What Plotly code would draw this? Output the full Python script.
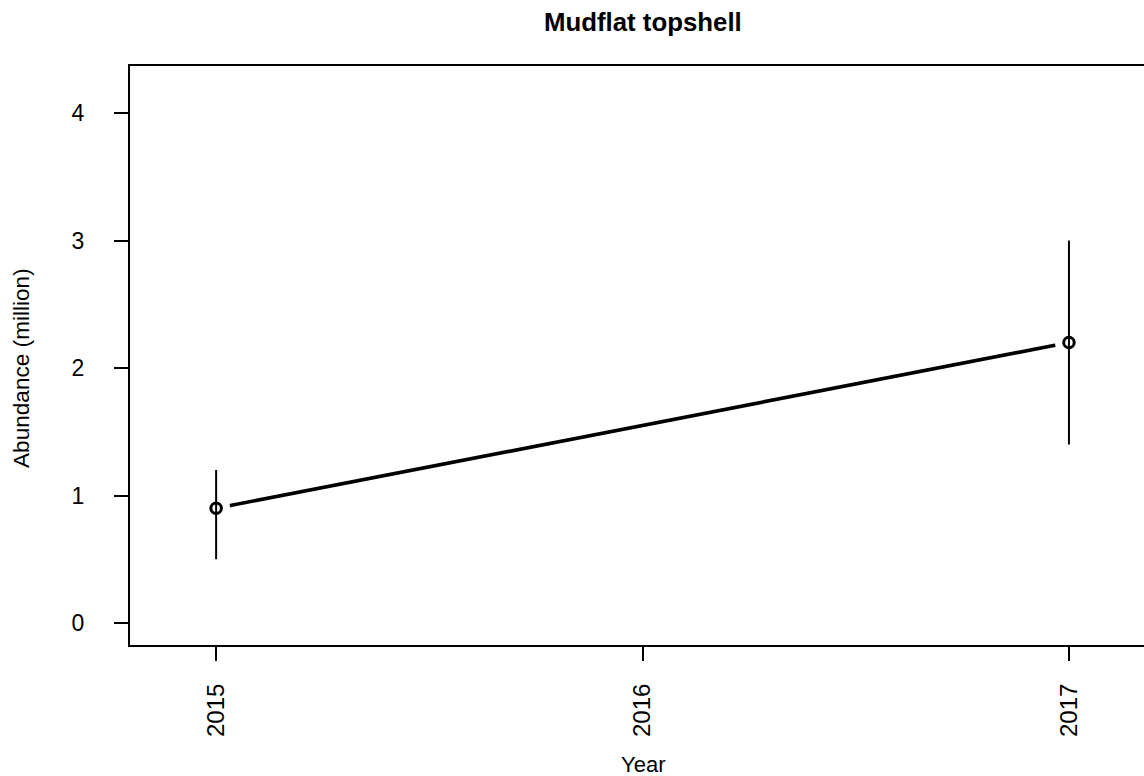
import plotly.graph_objects as go

# Survey estimates for mudflat topshell
years = [2015, 2017]
abundance = [0.9, 2.2]
lower = [0.5, 1.4]
upper = [1.2, 3.0]
x_ticks = [2015, 2016, 2017]
y_ticks = [0, 1, 2, 3, 4]

W, H = 1144, 776
ML, MR, MT, MB = 130, 0, 66, 131
plot_w = W - ML - MR
plot_h = H - MT - MB

FONT = "Liberation Sans, Arial, sans-serif"
XTICK_SIZE = 24
YTICK_SIZE = 23
XLABEL_SIZE = 22
YLABEL_SIZE = 22.6
TITLE_SIZE = 25.8

err_plus = [u - a for u, a in zip(upper, abundance)]
err_minus = [a - l for a, l in zip(abundance, lower)]

fig = go.Figure()

# connecting line
fig.add_trace(go.Scatter(
    x=years, y=abundance, mode="lines",
    line=dict(color="black", width=3.6),
    hoverinfo="skip", showlegend=False,
))
# white discs leave a gap in the line around each point
fig.add_trace(go.Scatter(
    x=years, y=abundance, mode="markers",
    marker=dict(color="white", size=28, line=dict(width=0)),
    hoverinfo="skip", showlegend=False,
))
# points with error bars
fig.add_trace(go.Scatter(
    x=years, y=abundance, mode="markers",
    marker=dict(symbol="circle-open", color="black", size=10.5,
                line=dict(color="black", width=3)),
    error_y=dict(type="data", symmetric=False, array=err_plus,
                 arrayminus=err_minus, color="black", thickness=2, width=0),
    showlegend=False,
))

fig.update_layout(
    width=W, height=H,
    margin=dict(l=ML, r=MR, t=MT, b=MB, pad=0),
    paper_bgcolor="white", plot_bgcolor="white",
    font=dict(family=FONT, color="black"),
    showlegend=False,
)

fig.update_xaxes(
    range=[2014.798, 2017.176],
    tickmode="array", tickvals=x_ticks, ticktext=[str(v) for v in x_ticks],
    tickangle=-90,
    ticks="outside", ticklen=14, tickwidth=2, tickcolor="black",
    tickfont=dict(size=XTICK_SIZE, family=FONT, color="black"),
    ticklabelstandoff=13,
    showline=True, linecolor="black", linewidth=2, mirror=True,
    showgrid=False, zeroline=False,
)
fig.update_yaxes(
    range=[-0.1725, 4.369],
    tickmode="array", tickvals=y_ticks, ticktext=[str(v) for v in y_ticks],
    tickangle=0,
    ticks="outside", ticklen=14, tickwidth=2, tickcolor="black",
    tickfont=dict(size=YTICK_SIZE, family=FONT, color="black"),
    ticklabelstandoff=25,
    showline=True, linecolor="black", linewidth=2, mirror=False,
    showgrid=False, zeroline=False,
)

fig.add_annotation(
    text="<b>Mudflat topshell</b>", xref="x", yref="paper",
    x=2016, y=1 + (MT - 22) / plot_h, xanchor="center", yanchor="middle",
    showarrow=False, font=dict(size=TITLE_SIZE, family=FONT, color="black"),
)
fig.add_annotation(
    text="Year", xref="x", yref="paper",
    x=2016, y=-(764 - (H - MB)) / plot_h, xanchor="center", yanchor="middle",
    showarrow=False, font=dict(size=XLABEL_SIZE, family=FONT, color="black"),
)
fig.add_annotation(
    text="Abundance (million)", xref="paper", yref="paper",
    x=-(ML - 21) / plot_w, y=(H - MB - 368) / plot_h,
    xanchor="center", yanchor="middle", textangle=-90,
    showarrow=False, font=dict(size=YLABEL_SIZE, family=FONT, color="black"),
)

fig.write_html("out.html")
